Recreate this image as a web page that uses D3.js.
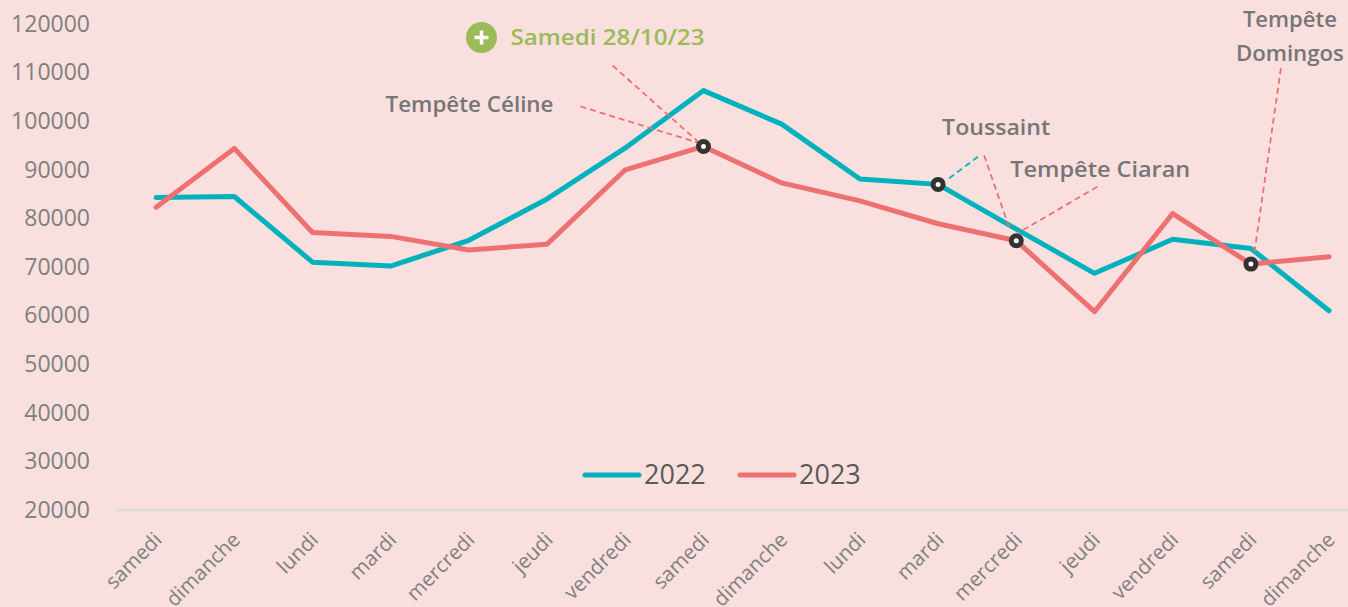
<!DOCTYPE html>
<html><head><meta charset="utf-8">
<script src="https://cdn.jsdelivr.net/npm/d3@7"></script>
<style>
html,body{margin:0;padding:0;background:#F9DFDD;}
svg{display:block;}
</style></head>
<body>
<svg id="chart" width="1348" height="607"></svg>
<script>
const categories = ["samedi","dimanche","lundi","mardi","mercredi","jeudi","vendredi","samedi","dimanche","lundi","mardi","mercredi","jeudi","vendredi","samedi","dimanche"];
const values2022 = [84300,84500,71000,70200,75500,84000,94500,106300,99400,88100,87000,77800,68700,75700,73800,61000];
const values2023 = [82300,94400,77100,76300,73500,74700,90000,94800,87300,83600,78900,75400,60800,81000,70600,72100];
const yTicks = [20000,30000,40000,50000,60000,70000,80000,90000,100000,110000,120000];
const seriesNames = ["2022","2023"];
// annotations: label text, series index, category index
const notes = [
  {text:"Samedi 28/10/23", s:1, i:7},
  {text:"Tempête Céline", s:1, i:7},
  {text:"Toussaint", s:0, i:10},
  {text:"Tempête Ciaran", s:1, i:11},
  {text:"Tempête Domingos", s:1, i:14}
];

const W=1348,H=607;
const colors=["#00B1BE","#EE7172"];
const svg=d3.select("#chart");
svg.append("rect").attr("width",W).attr("height",H).attr("fill","#F9DFDD");

const x=d3.scaleBand().domain(d3.range(categories.length)).range([117,117+16*78.2]);
const y=d3.scaleLinear().domain([20000,120000]).range([510,24]);
const cx=i=>x(i)+x.bandwidth()/2;

// y axis labels
const yAxis=d3.axisLeft(y).tickValues(yTicks).tickSize(0).tickPadding(0).tickFormat(d3.format("d"));
const gy=svg.append("g").attr("transform","translate(90,0)").call(yAxis);
gy.select(".domain").remove();
gy.selectAll("text").attr("font-family","'Open Sans',sans-serif").attr("font-size",23).attr("fill","#808080");

// x axis
const xAxis=d3.axisBottom(x).tickSize(0).tickFormat(i=>categories[i]);
const gx=svg.append("g").attr("transform","translate(0,510)").call(xAxis);
gx.select(".domain").attr("stroke","#DADADD").attr("stroke-width",2.5).attr("d","M117,0H1348");
gx.selectAll("text").attr("font-family","'Open Sans',sans-serif").attr("font-size",20.5).attr("fill","#808080")
  .attr("text-anchor","end").attr("dy",0).attr("y",0)
  .attr("transform","translate(7,31) rotate(-45)");

// lines
const line=d3.line().x((d,i)=>cx(i)).y(d=>y(d));
[values2022,values2023].forEach((vals,k)=>{
  svg.append("path").datum(vals).attr("d",line).attr("fill","none")
    .attr("stroke",colors[k]).attr("stroke-width",5).attr("stroke-linejoin","round").attr("stroke-linecap","round");
});

const series=[values2022,values2023];
const P=n=>[cx(n.i),y(series[n.s][n.i])];
const dash=(x1,y1,x2,y2,c)=>svg.append("line").attr("x1",x1).attr("y1",y1).attr("x2",x2).attr("y2",y2)
  .attr("stroke",c).attr("stroke-width",1.8).attr("stroke-dasharray","6,4");
const label=(t,xx,yy,len,col,anchor)=>svg.append("text").text(t).attr("x",xx).attr("y",yy)
  .attr("font-family","'Open Sans',sans-serif").attr("font-weight",600).attr("font-size",22)
  .attr("fill",col||"#767676").attr("text-anchor",anchor||"start")
  .attr("textLength",len).attr("lengthAdjust","spacingAndGlyphs");

// annotations
{
  const [px,py]=P(notes[0]);
  dash(px-91,py-81,px,py,colors[1]);
  svg.append("circle").attr("cx",px-222).attr("cy",py-109).attr("r",15.5).attr("fill","#9BBB59");
  svg.append("path").attr("d",`M${px-222-7},${py-109}h14M${px-222},${py-109-7}v14`).attr("stroke","#fff").attr("stroke-width",3.5);
  label(notes[0].text,px-193,py-101,194,"#9BBB59");
}
{
  const [px,py]=P(notes[1]);
  dash(px-123,py-40,px-3,py-3,colors[1]);
  label(notes[1].text,px-318,py-34,168);
}
{
  const [px,py]=P(notes[2]);
  dash(px+11,py-6,px+43,py-30,colors[0]);
  label(notes[2].text,px+4,py-49,108);
  const [qx,qy]=P(notes[3]);
  dash(px+46,py-29,qx-6,qy-10,colors[1]);
}
{
  const [px,py]=P(notes[3]);
  dash(px+81,py-54,px+2,py-8,colors[1]);
  label(notes[3].text,px-6,py-64,180);
}
{
  const [px,py]=P(notes[4]);
  dash(px+30,py-196,px+3,py-8,colors[1]);
  const parts=notes[4].text.split(" ");
  label(parts[0],px+39,py-237,94,null,"middle");
  label(parts[1],px+39,py-203,108,null,"middle");
}
// markers
notes.filter((n,k)=>k!==1).forEach(n=>{
  const [px,py]=P(n);
  svg.append("circle").attr("cx",px).attr("cy",py).attr("r",5).attr("fill","#fff").attr("stroke","#333").attr("stroke-width",5);
});

// legend
const lg=svg.append("g");
seriesNames.forEach((s,k)=>{
  const lx=585+k*155;
  lg.append("line").attr("x1",lx).attr("x2",lx+54).attr("y1",475).attr("y2",475)
    .attr("stroke",colors[k]).attr("stroke-width",5).attr("stroke-linecap","round");
  lg.append("text").text(s).attr("x",lx+59).attr("y",475).attr("dy","0.35em")
    .attr("font-family","'Open Sans',sans-serif").attr("font-size",27).attr("fill","#595959");
});
</script>
</body></html>
